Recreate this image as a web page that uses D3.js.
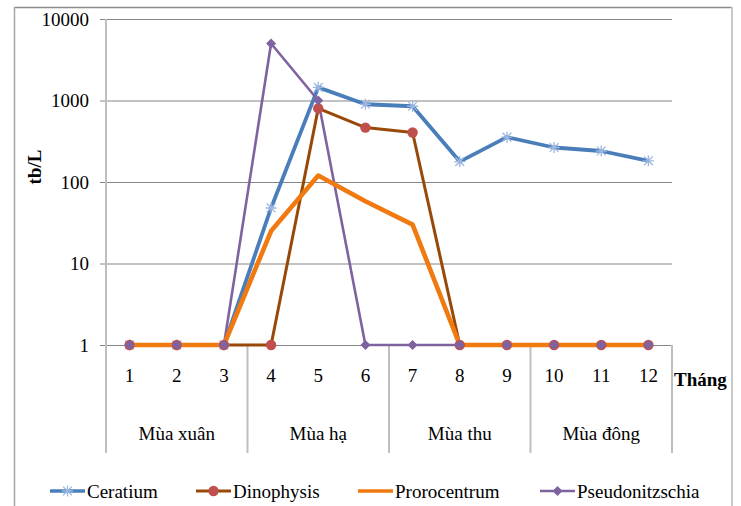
<!DOCTYPE html>
<html>
<head>
<meta charset="utf-8">
<script src="https://cdn.jsdelivr.net/npm/d3@7"></script>
<style>
  body { margin: 0; background: #fff; }
  svg { display: block; }
  text { font-family: "Liberation Serif", "Times New Roman", serif; fill: #000; }
</style>
</head>
<body>
<svg id="chart" width="741" height="506"></svg>
<script>
// Monthly cell densities (tb/L) of four phytoplankton genera, log scale
const months = [1, 2, 3, 4, 5, 6, 7, 8, 9, 10, 11, 12];
const seasons = ["Mùa xuân", "Mùa hạ", "Mùa thu", "Mùa đông"];
const yTicks = [1, 10, 100, 1000, 10000];

const ceratium        = [1, 1, 1, 48, 1450, 900, 850, 178, 355, 265, 240, 182];
const dinophysis      = [1, 1, 1, 1, 800, 465, 405, 1, 1, 1, 1, 1];
const prorocentrum    = [1, 1, 1, 25, 120, 58, 30, 1, 1, 1, 1, 1];
const pseudonitzschia = [1, 1, 1, 5000, 1000, 1, 1, 1, 1, 1, 1, 1];

const seriesNames = ["Ceratium", "Dinophysis", "Prorocentrum", "Pseudonitzschia"];

const svg = d3.select("#chart");

const plot = { left: 106, right: 672, top: 19, bottom: 345 };

const x = d3.scaleBand().domain(months).range([plot.left, plot.right]);
const cx = m => x(m) + x.bandwidth() / 2;
const y = d3.scaleLog().domain([1, 10000]).range([plot.bottom, plot.top]);

// Chart frame
svg.append("line").attr("x1", 14).attr("x2", 732).attr("y1", 7.5).attr("y2", 7.5)
  .attr("stroke", "#8c8c8c").attr("stroke-width", 1.5);
svg.append("line").attr("x1", 14.5).attr("x2", 14.5).attr("y1", 7).attr("y2", 506)
  .attr("stroke", "#a6a6a6").attr("stroke-width", 1.5);
svg.append("line").attr("x1", 732).attr("x2", 732).attr("y1", 7).attr("y2", 506)
  .attr("stroke", "#c8c8c8").attr("stroke-width", 2);

// Horizontal gridlines
svg.append("g")
  .attr("transform", `translate(${plot.left},0)`)
  .call(d3.axisLeft(y).tickValues(yTicks).tickSize(-(plot.right - plot.left)).tickFormat(""))
  .call(g => g.select(".domain").remove())
  .call(g => g.selectAll(".tick line").attr("stroke", "#868686").attr("stroke-width", 1.2));

// Y axis: small outer ticks and labels
svg.append("g")
  .attr("transform", `translate(${plot.left},0)`)
  .call(d3.axisLeft(y).tickValues(yTicks).tickSize(6).tickPadding(11).tickFormat(d3.format("d")))
  .call(g => g.select(".domain").remove())
  .call(g => g.selectAll(".tick line").attr("stroke", "#868686"))
  .call(g => g.selectAll(".tick text")
    .style("font-family", "'Liberation Serif', serif").style("font-size", "19px"));

// Y axis line, extended down through the season band
svg.append("line").attr("x1", plot.left).attr("x2", plot.left)
  .attr("y1", plot.top).attr("y2", 453)
  .attr("stroke", "#bfbfbf").attr("stroke-width", 2);

// Season separators
const seasonEdges = [3, 6, 9, 12].map(m => x(m) + x.bandwidth());
svg.append("g").selectAll("line").data(seasonEdges).join("line")
  .attr("x1", d => d).attr("x2", d => d)
  .attr("y1", plot.bottom).attr("y2", 453)
  .attr("stroke", "#bfbfbf").attr("stroke-width", 2);

// Month labels
svg.append("g")
  .attr("transform", `translate(0,${plot.bottom})`)
  .call(d3.axisBottom(x).tickSize(0).tickPadding(24))
  .call(g => g.select(".domain").remove())
  .call(g => g.selectAll(".tick text")
    .style("font-family", "'Liberation Serif', serif").style("font-size", "19px"));

// Season labels
svg.append("g").selectAll("text").data(seasons).join("text")
  .attr("x", (d, i) => (x(months[i * 3]) + x(months[i * 3 + 2]) + x.bandwidth()) / 2)
  .attr("y", 440)
  .attr("text-anchor", "middle")
  .style("font-size", "19px")
  .text(d => d);

// Axis titles
svg.append("text")
  .attr("x", 674).attr("y", 386)
  .style("font-size", "19px").style("font-weight", "bold")
  .text("Tháng");
svg.append("text")
  .attr("transform", "translate(41,167) rotate(-90)")
  .attr("text-anchor", "middle")
  .style("font-size", "19px").style("font-weight", "bold")
  .text("tb/L");

// Series styles
const styles = {
  Ceratium:        { values: ceratium,        stroke: "#4a7ebb", width: 3.8, marker: "star",    fill: "#9bb7df" },
  Dinophysis:      { values: dinophysis,      stroke: "#984807", width: 3,   marker: "circle",  fill: "#c0504d" },
  Prorocentrum:    { values: prorocentrum,    stroke: "#f07a10", width: 4.6, marker: null },
  Pseudonitzschia: { values: pseudonitzschia, stroke: "#7f63a1", width: 2.6, marker: "diamond", fill: "#7f63a1" }
};

const line = d3.line().x(d => cx(d.m)).y(d => y(d.v));
const pts = name => months.map((m, i) => ({ m, v: styles[name].values[i] }));

const starPath = r => `M0,${-r}L0,${r}M${-r*0.8},${-r*0.8}L${r*0.8},${r*0.8}M${-r*0.8},${r*0.8}L${r*0.8},${-r*0.8}M${-r},0L${r},0`;

function drawMarker(g, type, fill) {
  if (type === "star") {
    g.append("path").attr("d", starPath(5.5)).attr("stroke", fill).attr("stroke-width", 1.3).attr("fill", "none");
  } else if (type === "circle") {
    g.append("circle").attr("r", 5.2).attr("fill", fill);
  } else if (type === "diamond") {
    g.append("path").attr("d", "M0,-5L5,0L0,5L-5,0Z").attr("fill", fill);
  }
}

// Lines
const lineOrder = ["Ceratium", "Dinophysis", "Pseudonitzschia", "Prorocentrum"];
const linesG = svg.append("g");
lineOrder.forEach(name => {
  linesG.append("path")
    .datum(pts(name))
    .attr("d", line)
    .attr("fill", "none")
    .attr("stroke", styles[name].stroke)
    .attr("stroke-width", styles[name].width)
    .attr("stroke-linejoin", "round");
});

// Markers
const markerOrder = ["Ceratium", "Dinophysis", "Pseudonitzschia"];
markerOrder.forEach(name => {
  const s = styles[name];
  svg.append("g").selectAll("g").data(pts(name)).join("g")
    .attr("transform", d => `translate(${cx(d.m)},${y(d.v)})`)
    .each(function () { drawMarker(d3.select(this), s.marker, s.fill); });
});

// Legend
const legendX = [50, 196, 358, 540];
const legendY = 491;
const legend = svg.append("g").selectAll("g").data(seriesNames).join("g")
  .attr("transform", (d, i) => `translate(${legendX[i]},${legendY})`);
legend.append("line")
  .attr("x1", 0).attr("x2", 35).attr("y1", 0).attr("y2", 0)
  .attr("stroke", d => styles[d].stroke)
  .attr("stroke-width", d => Math.min(styles[d].width, 3.5));
legend.each(function (d) {
  if (styles[d].marker) {
    const g = d3.select(this).append("g").attr("transform", "translate(17.5,0)");
    drawMarker(g, styles[d].marker, styles[d].fill);
  }
});
legend.append("text")
  .attr("x", 37).attr("y", 6.5)
  .style("font-size", "19px")
  .text(d => d);
</script>
</body>
</html>
